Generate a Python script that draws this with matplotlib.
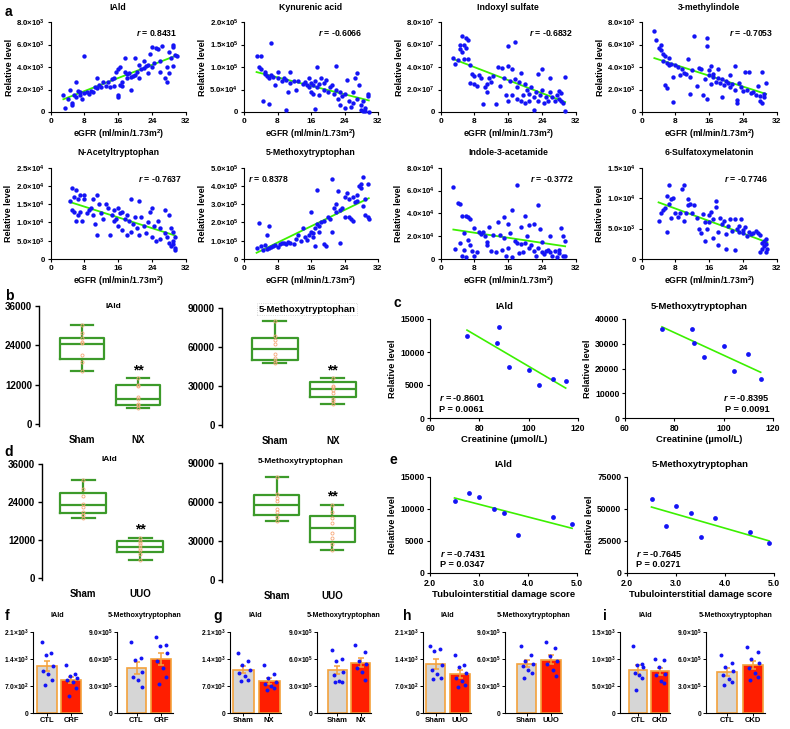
import numpy as np
import matplotlib
matplotlib.use("Agg")
import matplotlib.pyplot as plt

plt.rcParams['font.family'] = ['Liberation Sans', 'DejaVu Sans']
plt.rcParams['font.weight'] = 'bold'
plt.rcParams['axes.labelweight'] = 'bold'
plt.rcParams['axes.titleweight'] = 'bold'
plt.rcParams['mathtext.fontset'] = 'custom'
plt.rcParams['mathtext.rm'] = 'Liberation Sans:bold'
plt.rcParams['mathtext.it'] = 'Liberation Sans:italic:bold'
plt.rcParams['mathtext.bf'] = 'Liberation Sans:bold'
plt.rcParams['mathtext.default'] = 'rm'
plt.rcParams['axes.linewidth'] = 0.8

# ---------------- data: panel a (eGFR, relative level) ----------------
iald_pts = [(3,1500),(3.5,400),(4,1200),(4.5,2000),(5,800),(5,600),(5.5,1500),(6,2700),(6,1300),(6.5,1900),
            (7,1800),(7,1500),(7.5,1200),(8,5000),(8,1700),(8.5,1800),(9,1600),(9.5,1900),(10,1800),(10.5,2200),
            (11,3000),(11,2100),(11.5,2400),(12,2200),(12.5,2700),(13,2300),(13.5,2700),(14,2200),(14.5,2900),(15,3000),
            (15,2300),(15.5,3600),(16,1500),(16,1300),(16,3800),(16.5,2400),(16.5,4000),(17,2700),(17,2300),(17.5,4800),
            (17.5,3600),(18,3400),(18,3000),(18.5,3500),(19,2000),(19,3100),(19.5,3200),(20,4800),(20,3300),(20.5,3600),
            (21,4200),(21,3000),(21.5,3800),(22,4500),(22,3900),(22.5,4100),(23,4200),(23,3500),(23.5,5200),(24,4000),
            (24,5800),(24.5,4400),(25,5700),(25.5,5600),(26,4500),(26,3600),(26.5,5900),(27,3000),(27.5,4000),(27.5,2700),
            (28,5300),(28,3500),(28.5,4800),(29,5800),(29,6000),(29.5,5100),(30,5000),(29,4100)]

kyn_pts = [(3,124000),(4,124000),(3.5,100000),(4,95000),(4.5,25000),(5,90000),(5,85000),(5.5,80000),(6,75000),(6,18000),
           (6.5,153000),(6.5,82000),(7,78000),(7.5,60000),(8,75000),(8,88000),(9,70000),(9.5,75000),(10,72000),(10,5000),
           (10.5,45000),(11,90000),(11,65000),(12,68000),(12.5,50000),(13,70000),(14,62000),(14.5,67000),(15,60000),(15.5,55000),
           (15.5,75000),(16,65000),(16,45000),(16.5,40000),(16.5,60000),(17,7000),(17,70000),(17.5,100000),(17.5,55000),(18,38000),
           (18,62000),(18.5,75000),(19,50000),(19,65000),(19.5,72000),(20,45000),(20.5,55000),(21,60000),(21.5,40000),(22,103000),
           (22,50000),(22.5,30000),(23,45000),(23,15000),(23.5,35000),(24,40000),(24,10000),(24.5,72000),(25,25000),(25.5,12000),
           (26,45000),(26,20000),(26.5,75000),(27,87000),(27,30000),(27.5,60000),(28,15000),(28,5000),(28.5,25000),(29,10000),
           (29,3000),(29.5,40000),(29.8,0),(29.5,35000),(28.5,2000)]

indoxyl_pts = [(3,48e6),(3.5,43e6),(4,46e6),(4.5,56e6),(4.5,60e6),(5,53e6),(5,68e6),(5.5,47e6),(5.5,60e6),(6,57e6),
               (6,66e6),(6.5,64e6),(6.5,47e6),(7,42e6),(7,26e6),(7.5,34e6),(8,25e6),(8,32e6),(8.5,23e6),(9,33e6),
               (9.5,30e6),(10,7e6),(10.5,22e6),(11,25e6),(11,18e6),(11.5,30e6),(12,27e6),(12.5,32e6),(13,7e6),(13.5,40e6),
               (14,23e6),(14.5,39e6),(15,30e6),(15.5,15e6),(16,59e6),(16,41e6),(16,10e6),(16.5,28e6),(17,38e6),(17,15e6),
               (17.5,62e6),(17.5,29e6),(18,12e6),(18,22e6),(18.5,27e6),(19,35e6),(19,10e6),(19.5,15e6),(20,25e6),(20,8e6),
               (20.5,20e6),(21,16e6),(21,10e6),(21.5,22e6),(22,2e6),(22,13e6),(22.5,18e6),(23,34e6),(23,10e6),(23.5,15e6),
               (24,38e6),(24,20e6),(24.5,8e6),(25,13e6),(25.5,10e6),(26,30e6),(26,18e6),(26.5,13e6),(27,10e6),(27.5,15e6),
               (28,19e6),(28,12e6),(28.5,17e6),(29,8e6),(29.5,31e6),(29.5,1e6),(28.5,10e6)]

methylindole_pts = [(3,7200),(3.5,6400),(4,5700),(4.5,5500),(4.5,6000),(5,5200),(5,4500),(5.5,5000),(5.5,2400),(6,4400),
                    (6,2100),(6.5,4200),(6.5,4800),(7,4300),(7.5,3100),(7.5,900),(8,4200),(8.5,4000),(9,3300),(9.5,3800),
                    (10,3500),(10.5,3400),(11,4700),(11.5,1600),(11.5,3100),(12,3700),(12.5,6800),(13,2300),(13.5,3900),(14,3800),
                    (14.5,1500),(15,2900),(15.5,6600),(15.5,5900),(15.5,1200),(16,3300),(16,3700),(16.5,4100),(16.5,2500),(17,3100),
                    (17,3400),(17.5,2700),(18,3000),(18,3800),(18.5,2600),(19,1300),(19,2900),(19.5,2400),(20,2800),(20.5,2600),
                    (21,3300),(21,2200),(21.5,2500),(22,4100),(22,2000),(22.5,1100),(22.5,800),(23,2600),(23.5,2200),(24,1900),
                    (24.5,3600),(25,2000),(25.5,3600),(26,1700),(26.5,1800),(27,1500),(27.5,2300),(28,1000),(28,1400),(28.5,3600),
                    (28.5,800),(29,1300),(29.5,2600),(29,1600)]

nacetyl_pts = [(4.5,16000),(5,19500),(5,13500),(5.5,13000),(5.5,17000),(6,19000),(6,10500),(6.5,12000),(6.5,16500),(7,17500),
               (7,13000),(7.5,10500),(8,17500),(8,16500),(8.5,12500),(9,13500),(9.5,14000),(10,16500),(10,12000),(10.5,9500),
               (11,17500),(11,6500),(11.5,15000),(12,12500),(12.5,11000),(13,15000),(13.5,14000),(14,6500),(14.5,12000),(15,13500),
               (15,10500),(15.5,11000),(16,14000),(16,9000),(16.5,12500),(17,13000),(17,8000),(17.5,11000),(18,12000),(18,6500),
               (18.5,10500),(19,16500),(19,7500),(19.5,9500),(20,11500),(20.5,8500),(21,16000),(21,6500),(21.5,11500),(22,9000),
               (22.5,7000),(23,10000),(23.5,13000),(24,14000),(24,6000),(24.5,9000),(25,5000),(25.5,10500),(26,8500),(26,5500),
               (27,13500),(27,7000),(27.5,6000),(28,12000),(28,4500),(28.5,8500),(28.5,3500),(29,7500),(29,5000),(29.5,3000),
               (29.5,2500),(29.5,6000),(29,4000)]

mt5_pts = [(3,60000),(3.5,195000),(4,70000),(4.5,50000),(5,75000),(5.5,130000),(5.5,55000),(6,180000),(6,60000),(6.5,65000),
           (7,70000),(7.5,75000),(8,65000),(8.5,80000),(9,85000),(9.5,90000),(10,80000),(10.5,95000),(11,85000),(12,80000),
           (12.5,110000),(13,130000),(13.5,100000),(14,170000),(14.5,120000),(15,105000),(15.5,130000),(16,260000),(16,150000),(16.5,120000),
           (16.5,140000),(17,170000),(17,70000),(17.5,380000),(17.5,190000),(18,150000),(18,180000),(18.5,200000),(19,80000),(19,210000),
           (19.5,70000),(20,230000),(20.5,220000),(21,150000),(21,440000),(21.5,280000),(22,300000),(22,260000),(22.5,370000),(23,270000),
           (23,90000),(23.5,280000),(24,340000),(24,230000),(24.5,360000),(25,330000),(25,230000),(25.5,220000),(26,340000),(26,210000),
           (26.5,310000),(27,350000),(27,320000),(27.5,400000),(28,390000),(28,410000),(28.5,450000),(28.5,290000),(29,330000),(29,240000),
           (29.5,410000),(29.5,230000),(29.8,220000)]

acetamide_pts = [(3,63000),(3.5,9000),(4,49000),(4.5,48000),(4.5,14000),(5,38000),(5,3000),(5.5,23000),(5.5,8000),(6,38000),
                 (6,2000),(6.5,17000),(6.5,37000),(7,12000),(7,35000),(7.5,7000),(8,27000),(8,3000),(8.5,6000),(9,24000),
                 (9.5,22000),(10,24000),(10.5,20000),(11,12000),(11,15000),(11.5,28000),(12,7000),(12.5,21000),(13,6000),(13.5,32000),
                 (14,21000),(14.5,8000),(15,37000),(15,18000),(15.5,3000),(16,10000),(16,31000),(16.5,23000),(17,43000),(17,2000),
                 (17.5,16000),(18,65000),(18,14000),(18.5,5000),(19,28000),(19,13000),(19.5,6000),(20,38000),(20,14000),(20.5,20000),
                 (21,10000),(21,30000),(21.5,12000),(22,31000),(22,7000),(22.5,3000),(23,47000),(23,10000),(23.5,26000),(24,15000),
                 (24,6000),(24.5,4000),(25,7000),(25.5,8000),(26,20000),(26,6000),(26.5,3000),(27,7000),(27.5,2000),(28,5000),
                 (28,8000),(28.5,27000),(29,3000),(29,20000),(29.5,16000),(29.5,3000)]

sulfatoxy_pts = [(4,6300),(4.5,7500),(5,8000),(5.5,8300),(6,10300),(6,4500),(6.5,12100),(6.5,9000),(7,9800),(7,6700),
                 (7.5,10000),(8,7500),(8.5,6900),(9,7500),(9.5,11500),(10,12200),(10,6200),(10.5,7600),(11,9900),(11,8800),
                 (11.5,9100),(12,7500),(12.5,8800),(13,6800),(13.5,5000),(14,4200),(14.5,7400),(15,2900),(15,6100),(15.5,4900),
                 (16,7200),(16,6000),(16.5,7800),(17,6600),(17,3500),(17.5,8500),(17.5,9500),(18,2300),(18,4500),(18.5,6800),
                 (19,5800),(19.5,6300),(20,4100),(20,1700),(20.5,5500),(21,6500),(21.5,4600),(22,6500),(22,1400),(22.5,5000),
                 (23,5500),(23,4400),(23.5,6500),(24,4800),(24,4200),(24.5,5200),(25,3800),(25.5,4500),(26,4100),(26.5,4300),
                 (27,4600),(27.5,4300),(28,4000),(28,1100),(28.5,2700),(28.5,1600),(29,2100),(29,3000),(29.5,3300),(29.5,2400),
                 (29.5,1100),(29.8,1600)]

# ---------------- data: panels b, d (box stats: low, q1, median, q3, high) ----------------
b_iald_sham = [16200, 19800, 24300, 26200, 30200]
b_iald_nx = [4900, 5700, 7600, 11900, 13900]
b_iald_sham_pts = [30200, 27900, 26200, 25000, 24700, 21100, 18800, 16200]
b_iald_nx_pts = [13900, 12000, 11500, 8100, 7500, 6200, 5800, 4900]
b_mt_sham = [47600, 50100, 58600, 66900, 79700]
b_mt_nx = [16200, 21900, 27500, 33400, 36000]
b_mt_sham_pts = [79700, 68200, 65600, 62200, 54500, 51900, 49400, 47600]
b_mt_nx_pts = [36000, 30300, 29000, 27000, 24900, 19800, 18800, 16200]

d_iald_sham = [18900, 20400, 22900, 27000, 31100]
d_iald_uuo = [5800, 8200, 9900, 11700, 12700]
d_iald_sham_pts = [31100, 28000, 26000, 23500, 22500, 21000, 20000, 18900]
d_iald_uuo_pts = [12700, 11800, 11200, 10400, 9600, 8800, 7700, 5800]
d_mt_sham = [45500, 50100, 57900, 65600, 78900]
d_mt_uuo = [23100, 29600, 39900, 49400, 57900]
d_mt_sham_pts = [78900, 66500, 62700, 61000, 54500, 52000, 48500, 45500]
d_mt_uuo_pts = [57900, 52000, 47500, 43500, 36500, 32000, 28000, 23100]

# ---------------- data: panels c, e ----------------
creatinine = [75, 87, 88, 92, 100, 104, 110, 115]
c_iald = [12400, 11300, 13800, 7800, 7200, 5000, 5900, 5600]
c_mt = [35800, 35900, 30400, 24500, 28900, 18900, 25900, 15800]
damage = [2.5, 2.8, 3.0, 3.3, 3.5, 3.8, 4.5, 4.9]
e_iald = [11200, 12500, 11900, 10000, 9400, 6000, 8700, 7700]
e_mt = [58000, 36500, 52000, 47000, 28500, 43300, 32000, 23500]

# ---------------- data: panels f-i (individual values) ----------------
f_iald_ctl = [1850, 1550, 1500, 1220, 1100, 1000, 860, 730]
f_iald_crf = [1250, 1000, 950, 900, 850, 800, 650, 450]
f_mt_ctl = [790000, 610000, 590000, 460000, 400000, 370000, 290000]
f_mt_crf = [840000, 760000, 740000, 670000, 580000, 500000, 400000, 320000]
g_iald_sham = [1550, 1350, 1250, 1120, 1050, 950, 850, 820]
g_iald_nx = [1250, 1000, 900, 800, 750, 700, 650, 600]
g_mt_sham = [700000, 600000, 580000, 460000, 420000, 360000, 350000, 340000]
g_mt_nx = [760000, 680000, 580000, 540000, 500000, 460000, 370000]
h_iald_sham = [1750, 1650, 1600, 1250, 1120, 1000, 900, 880]
h_iald_uuo = [1500, 1250, 1200, 1050, 900, 820, 720, 680]
h_mt_sham = [750000, 650000, 580000, 550000, 520000, 480000, 450000, 390000]
h_mt_uuo = [790000, 720000, 630000, 580000, 540000, 480000, 410000]
i_iald_ctl = [1250, 900, 880, 850, 750, 700, 650, 420]
i_iald_ckd = [1000, 980, 850, 720, 700, 600, 550]
i_mt_ctl = [640000, 560000, 510000, 470000, 420000, 380000, 350000, 310000]
i_mt_ckd = [730000, 680000, 600000, 560000, 500000, 450000, 400000, 370000]

BLUE = '#1414f5'
LIME = '#3cf000'
GREEN = '#3c9a2a'
ORANGE = '#f4a23c'
PT_ORANGE = '#f7a878'
GRAY = '#d6d6d6'
RED = '#ff1e00'

W, H = 790, 729
fig = plt.figure(figsize=(W / 100, H / 100), dpi=100)


def add_ax(l, r, t, b):
    ax = fig.add_axes([l / W, 1 - b / H, (r - l) / W, (b - t) / H])
    ax.spines['top'].set_visible(False)
    ax.spines['right'].set_visible(False)
    return ax


def sci(v):
    if v == 0:
        return '0'
    e = int(np.floor(np.log10(v) + 1e-9))
    return '%.1f×10$^{%d}$' % (v / 10 ** e, e)


def scatter_panel(box, pts, title, yticks, rtext, rx, ha):
    ax = add_ax(*box)
    x, y = np.array(pts, dtype=float).T
    ax.scatter(x, y, s=10, color=BLUE, lw=0, zorder=3, clip_on=False)
    k, c = np.polyfit(x, y, 1)
    xx = np.array([x.min(), x.max()])
    ax.plot(xx, k * xx + c, color=LIME, lw=1.3, zorder=2)
    ax.set_xlim(0, 32)
    ax.set_xticks([0, 8, 16, 24, 32])
    ax.set_ylim(0, yticks[-1])
    ax.set_yticks(yticks)
    ax.set_yticklabels([sci(v) for v in yticks])
    ax.tick_params(axis='y', labelsize=5.6, length=2.5, width=0.8, pad=1.5)
    ax.tick_params(axis='x', labelsize=6, length=2.5, width=0.8, pad=1.5)
    ax.set_xlabel('eGFR (ml/min/1.73m$^{2}$)', fontsize=6.2, labelpad=2)
    ax.set_ylabel('Relative level', fontsize=6.5, labelpad=2)
    ax.set_title(title, fontsize=6.3, pad=9)
    ax.text(rx, 0.88, '$\\it{r}$ = ' + rtext, transform=ax.transAxes, fontsize=6.2, ha=ha, va='center')
    return ax


# panel a
row1 = (22, 112)
row2 = (167.7, 259)
cols = [(50.7, 185.7), (244, 378), (440.7, 575.7), (641.7, 776.7)]
scatter_panel((*cols[0], *row1), iald_pts, 'IAld', [0, 2000, 4000, 6000, 8000], '0.8431', 0.94, 'right')
scatter_panel((*cols[1], *row1), kyn_pts, 'Kynurenic acid', [0, 50000, 100000, 150000, 200000], '-0.6066', 0.88, 'right')
scatter_panel((*cols[2], *row1), indoxyl_pts, 'Indoxyl sulfate', [0, 2e7, 4e7, 6e7, 8e7], '-0.6832', 0.98, 'right')
scatter_panel((*cols[3], *row1), methylindole_pts, '3-methylindole', [0, 2000, 4000, 6000, 8000], '-0.7053', 0.97, 'right')
scatter_panel((*cols[0], *row2), nacetyl_pts, 'N-Acetyltryptophan', [0, 5000, 10000, 15000, 20000, 25000], '-0.7637', 0.97, 'right')
scatter_panel((*cols[1], *row2), mt5_pts, '5-Methoxytryptophan', [0, 1e5, 2e5, 3e5, 4e5, 5e5], '0.8378', 0.03, 'left')
scatter_panel((*cols[2], *row2), acetamide_pts, 'Indole-3-acetamide', [0, 2e4, 4e4, 6e4, 8e4], '-0.3772', 0.985, 'right')
scatter_panel((*cols[3], *row2), sulfatoxy_pts, '6-Sulfatoxymelatonin', [0, 5000, 10000, 15000], '-0.7746', 0.94, 'right')


def box_panel(box, xlim, stats, pts, labels, ymax, step, title, tx, ty, dotted):
    ax = add_ax(*box)
    bstats = [dict(whislo=s[0], q1=s[1], med=s[2], q3=s[3], whishi=s[4], label=lab)
              for s, lab in zip(stats, labels)]
    lp = dict(color=GREEN, lw=1.6)
    ax.bxp(bstats, positions=[1, 2], widths=0.8, showfliers=False, capwidths=0.4,
           boxprops=lp, whiskerprops=lp, capprops=lp, medianprops=lp)
    for i, p in enumerate(pts):
        ax.plot([i + 1] * len(p), p, 'o', ms=2.2, mfc='none', mec=PT_ORANGE, mew=0.6, zorder=4)
    ax.text(2, stats[1][4] + 0.07 * ymax, '**', ha='center', va='center', fontsize=10)
    ax.set_xlim(*xlim)
    ax.set_ylim(0, ymax)
    ax.set_yticks(np.arange(0, ymax + 1, step))
    ax.spines['bottom'].set_visible(False)
    ax.spines['left'].set_bounds(-0.02 * ymax, ymax)
    ax.tick_params(axis='y', labelsize=7, length=3, width=1, pad=2)
    ax.tick_params(axis='x', labelsize=7, length=0, pad=8)
    ax.spines['left'].set_linewidth(1)
    bb = dict(boxstyle='square,pad=0.15', fc='none', ec='#cccccc', ls=':', lw=0.6) if dotted else None
    ax.text(tx, ty, title, transform=ax.transAxes, ha='center', va='center', fontsize=6.8 if dotted else 6,
            bbox=bb)
    return ax


# panel b
box_panel((39, 180, 306, 424), (0.232, 2.75), [b_iald_sham, b_iald_nx], [b_iald_sham_pts, b_iald_nx_pts],
          ['Sham', 'NX'], 36000, 12000, 'IAld', 0.53, 1.0, False)
box_panel((222, 376, 308, 425), (0.086, 2.75), [b_mt_sham, b_mt_nx], [b_mt_sham_pts, b_mt_nx_pts],
          ['Sham', 'NX'], 90000, 30000, '5-Methoxytryptophan', 0.55, 0.99, True)
# panel d
box_panel((42, 183, 464, 578), (0.28, 2.75), [d_iald_sham, d_iald_uuo], [d_iald_sham_pts, d_iald_uuo_pts],
          ['Sham', 'UUO'], 36000, 12000, 'IAld', 0.48, 1.04, False)
box_panel((222, 374, 463, 580), (0.018, 2.75), [d_mt_sham, d_mt_uuo], [d_mt_sham_pts, d_mt_uuo_pts],
          ['Sham', 'UUO'], 90000, 30000, '5-Methoxytryptophan', 0.52, 1.01, False)


def corr_panel(box, x, y, xlim, xticks, xfmt, ymax, step, title, xlabel, rtext, ptext, rx, ha):
    ax = add_ax(*box)
    x = np.array(x, dtype=float)
    y = np.array(y, dtype=float)
    ax.scatter(x, y, s=12, color=BLUE, lw=0, zorder=3)
    k, c = np.polyfit(x, y, 1)
    xx = np.array([x.min(), x.max()])
    ax.plot(xx, k * xx + c, color=LIME, lw=1.2, zorder=2)
    ax.set_xlim(*xlim)
    ax.set_xticks(xticks)
    ax.set_xticklabels([xfmt % v for v in xticks])
    ax.set_ylim(0, ymax)
    ax.set_yticks(np.arange(0, ymax + 1, step))
    ax.tick_params(labelsize=6.2, length=2.5, width=0.8, pad=1.5)
    ax.set_xlabel(xlabel, fontsize=6.8, labelpad=2)
    ax.set_ylabel('Relative level', fontsize=6.6, labelpad=2)
    ax.set_title(title, fontsize=6.8, pad=7)
    ax.text(rx, 0.2, '$\\it{r}$ = ' + rtext, transform=ax.transAxes, fontsize=6.6, ha=ha, va='center')
    ax.text(rx, 0.09, 'P = ' + ptext, transform=ax.transAxes, fontsize=6.6, ha=ha, va='center')
    return ax


cx = 'Creatinine (µmol/L)'
ex = 'Tubulointerstitial damage score'
corr_panel((430, 578, 319, 418), creatinine, c_iald, (60, 120), [60, 80, 100, 120], '%d', 15000, 5000,
           'IAld', cx, '-0.8601', '0.0061', 0.06, 'left')
corr_panel((625, 773, 319, 418), creatinine, c_mt, (60, 120), [60, 80, 100, 120], '%d', 40000, 10000,
           '5-Methoxytryptophan', cx, '-0.8395', '0.0091', 0.98, 'right')
corr_panel((430, 577, 477, 573), damage, e_iald, (2, 5), [2, 3, 4, 5], '%.1f', 15000, 5000,
           'IAld', ex, '-0.7431', '0.0347', 0.07, 'left')
corr_panel((627, 774, 477, 573), damage, e_mt, (2, 5), [2, 3, 4, 5], '%.1f', 75000, 25000,
           '5-Methoxytryptophan', ex, '-0.7645', '0.0271', 0.06, 'left')

offsets = [-0.22, 0.18, -0.06, 0.24, -0.16, 0.06, 0.2, -0.1]


def bar_panel(box, xlim, groups, labels, yticks, title):
    ax = add_ax(*box)
    means = [np.mean(g) for g in groups]
    sems = [np.std(g, ddof=1) / np.sqrt(len(g)) for g in groups]
    ax.bar([1, 2], means, width=0.8, color=[GRAY, RED], edgecolor=ORANGE, lw=1.2, zorder=2)
    ax.errorbar([1, 2], means, yerr=sems, fmt='none', ecolor=ORANGE, elinewidth=1.1, capsize=2.5,
                capthick=1.1, zorder=3)
    for i, g in enumerate(groups):
        ax.scatter([i + 1 + offsets[j % len(offsets)] for j in range(len(g))], g, s=8, color=BLUE,
                   lw=0, zorder=4)
    ax.set_xlim(*xlim)
    ax.set_xticks([1, 2])
    ax.set_xticklabels(labels)
    ax.set_ylim(0, yticks[-1])
    ax.set_yticks(yticks)
    ax.set_yticklabels([sci(v) for v in yticks])
    ax.tick_params(axis='y', labelsize=4.8, length=2, width=0.7, pad=1)
    ax.tick_params(axis='x', labelsize=5.5, length=2, width=0.7, pad=1)
    ax.set_title(title, fontsize=5.2, pad=11)
    return ax


iald_ticks = [0, 700, 1400, 2100]
mt_ticks = [0, 3e5, 6e5, 9e5]
bar_panel((33, 82, 632, 713), (0.42, 2.45), [f_iald_ctl, f_iald_crf], ['CTL', 'CRF'], iald_ticks, 'IAld')
bar_panel((116.7, 173, 632, 713), (0.2, 2.47), [f_mt_ctl, f_mt_crf], ['CTL', 'CRF'], mt_ticks, '5-Methoxytryptophan')
bar_panel((230, 281, 632, 713), (0.49, 2.45), [g_iald_sham, g_iald_nx], ['Sham', 'NX'], iald_ticks, 'IAld')
bar_panel((316.7, 371, 632, 713), (0.11, 2.45), [g_mt_sham, g_mt_nx], ['Sham', 'NX'], mt_ticks, '5-Methoxytryptophan')
bar_panel((423.3, 471, 632, 713), (0.49, 2.45), [h_iald_sham, h_iald_uuo], ['Sham', 'UUO'], iald_ticks, 'IAld')
bar_panel((505, 562, 632, 713), (0.11, 2.45), [h_mt_sham, h_mt_uuo], ['Sham', 'UUO'], mt_ticks, '5-Methoxytryptophan')
bar_panel((620, 670, 632, 713), (0.17, 2.46), [i_iald_ctl, i_iald_ckd], ['CTL', 'CKD'], [0, 500, 1000, 1500], 'IAld')
bar_panel((706, 765, 632, 713), (0.19, 2.46), [i_mt_ctl, i_mt_ckd], ['CTL', 'CKD'], mt_ticks, '5-Methoxytryptophan')

# panel letters
for letter, (px, py) in {'a': (5, 12), 'b': (5, 296), 'c': (393, 303), 'd': (4, 452), 'e': (390, 460),
                         'f': (5, 616), 'g': (213, 616), 'h': (403, 616), 'i': (603, 616)}.items():
    fig.text(px / W, 1 - py / H, letter, fontsize=10, fontweight='bold', ha='left', va='center')

fig.savefig('out.png', dpi=100)
